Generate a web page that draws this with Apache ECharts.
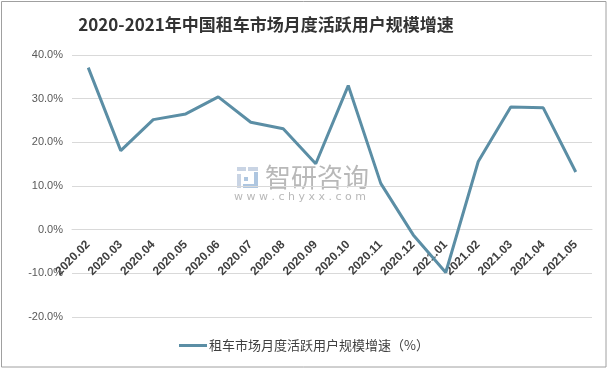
<!DOCTYPE html>
<html>
<head>
<meta charset="utf-8">
<script src="https://cdn.jsdelivr.net/npm/echarts@6/dist/echarts.min.js"></script>
<style>
html,body{margin:0;padding:0;background:#fff;}
#main{width:608px;height:369px;}
</style>
</head>
<body>
<div id="main"></div>
<script>
var titleText = '2020-2021年中国租车市场月度活跃用户规模增速';
var seriesName = '租车市场月度活跃用户规模增速（%）';
var categories = ['2020.02','2020.03','2020.04','2020.05','2020.06','2020.07','2020.08','2020.09','2020.10','2020.11','2020.12','2021.01','2021.02','2021.03','2021.04','2021.05'];
var values = [37.1, 18.1, 25.2, 26.5, 30.4, 24.6, 23.1, 15.1, 33.0, 10.6, -1.2, -9.8, 15.6, 28.1, 27.9, 13.2];
var yMin = -20, yMax = 40, yStep = 10;

var gridTop = 55, gridBottom = 52, chartH = 369;
var plotH = chartH - gridTop - gridBottom;
var zeroOffset = -plotH * (0 - yMin) / (yMax - yMin);

var chart = echarts.init(document.getElementById('main'));
var lineColor = '#5b8ea5';
chart.setOption({
  animation: false,
  backgroundColor: '#ffffff',
  title: {
    text: titleText,
    left: 261, top: 11, textAlign: 'center',
    textStyle: {fontFamily: 'Noto Sans CJK SC', fontWeight: 'bold', fontSize: 17, color: '#333333'}
  },
  legend: {
    bottom: 12, left: 'center',
    itemWidth: 28, itemHeight: 3, itemGap: 10,
    icon: 'rect',
    data: [seriesName],
    textStyle: {fontFamily: 'Noto Sans CJK SC', fontSize: 13, color: '#404040', padding: [0,0,0,-3]}
  },
  grid: {left: 72, right: 16, top: gridTop, bottom: gridBottom},
  xAxis: {
    type: 'category', data: categories, boundaryGap: true,
    position: 'bottom', offset: zeroOffset,
    axisLine: {show: true, onZero: false, lineStyle: {color: '#d9d9d9', width: 1}},
    axisTick: {show: false},
    axisLabel: {rotate: 45, margin: 13, fontFamily: 'Liberation Sans', fontWeight: 'bold', fontSize: 12, color: '#404040', interval: 0}
  },
  yAxis: {
    type: 'value', min: yMin, max: yMax, interval: yStep,
    axisLine: {show: false}, axisTick: {show: false},
    axisLabel: {margin: 9, fontFamily: 'Liberation Sans', fontSize: 11, color: '#595959',
      formatter: function(v){ return v.toFixed(1) + '%'; }},
    splitLine: {lineStyle: {color: '#d9d9d9', width: 1}}
  },
  graphic: [
    {type: 'rect', z: 100, shape: {x: 1.5, y: 1.5, width: 604.5, height: 365.5}, style: {fill: 'none', stroke: '#a0a0a0', lineWidth: 1}},
    {type: 'rect', z: 0, shape: {x: 237, y: 167, width: 9, height: 4}, style: {fill: '#c9d4e4'}},
    {type: 'rect', z: 0, shape: {x: 248, y: 167, width: 10, height: 4}, style: {fill: '#c9d4e4'}},
    {type: 'rect', z: 0, shape: {x: 237, y: 174, width: 4, height: 14}, style: {fill: '#c9d4e4'}},
    {type: 'rect', z: 0, shape: {x: 244, y: 177, width: 4, height: 4}, style: {fill: '#aec6e0'}},
    {type: 'rect', z: 0, shape: {x: 254, y: 172, width: 4, height: 16}, style: {fill: '#aec6e0'}},
    {type: 'rect', z: 0, shape: {x: 243, y: 184, width: 13, height: 4}, style: {fill: '#aec6e0'}},
    {type: 'text', z: 0, left: 265, top: 164, style: {text: '智研咨询', fontFamily: 'Noto Sans CJK SC', fontSize: 26, fill: '#b8b8b8'}},
    {type: 'text', z: 0, left: 234, top: 192, style: {text: 'w w w . c h y x x . c o m', fontFamily: 'DejaVu Sans', fontSize: 11, fill: '#b8b8b8'}}
  ],
  series: [{
    name: seriesName, type: 'line', data: values,
    symbol: 'none', z: 5,
    lineStyle: {color: lineColor, width: 3},
    itemStyle: {color: lineColor}
  }]
});
</script>
</body>
</html>
